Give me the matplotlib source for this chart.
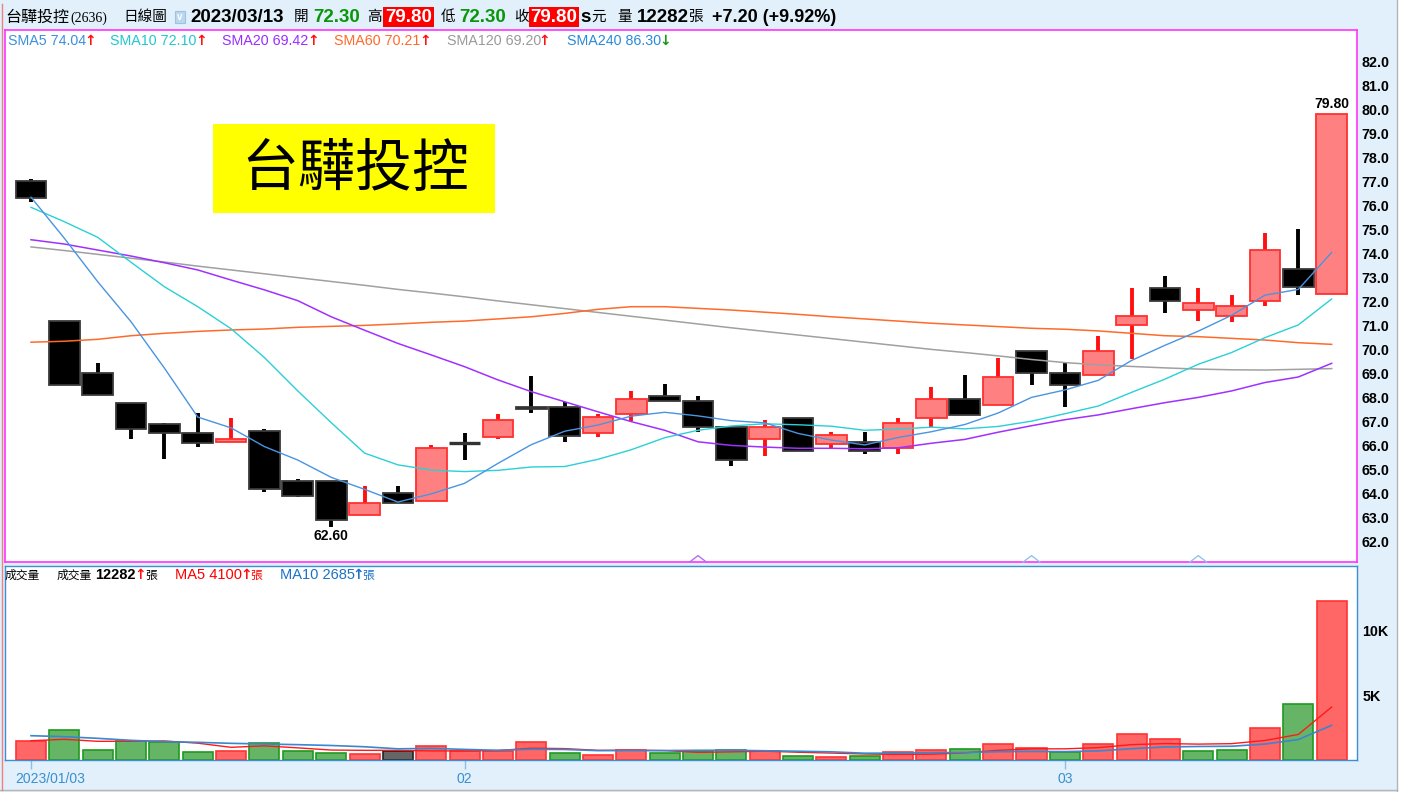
import numpy as np
import matplotlib
matplotlib.use("Agg")
import matplotlib.pyplot as plt
from matplotlib.patches import Rectangle
from matplotlib.lines import Line2D
from matplotlib.transforms import ScaledTranslation, blended_transform_factory

LAT = ["Liberation Sans", "DejaVu Sans"]
CJK = ["Noto Sans CJK TC", "DejaVu Sans"]
plt.rcParams["font.family"] = LAT

# =====================
# 資料
# =====================
dates = ["01/03", "01/04", "01/05", "01/06", "01/09", "01/10", "01/11", "01/12", "01/13", "01/16",
         "01/17", "01/30", "01/31", "02/01", "02/02", "02/03", "02/06", "02/07", "02/08", "02/09",
         "02/10", "02/13", "02/14", "02/15", "02/16", "02/17", "02/20", "02/21", "02/22", "02/23",
         "02/24", "03/01", "03/02", "03/03", "03/06", "03/07", "03/08", "03/09", "03/10", "03/13"]
month_labels = ["2023/01/03", "02", "03"]

opens = [77.0, 71.2, 69.0, 67.75, 66.9, 66.5, 66.15, 66.6, 64.5, 64.5,
         63.1, 64.0, 63.7, 66.1, 66.35, 67.6, 67.6, 66.5, 67.3, 68.05,
         67.85, 66.75, 66.25, 67.15, 66.05, 66.15, 65.9, 67.15, 67.95, 67.7,
         69.95, 69.0, 68.95, 71.0, 72.55, 71.65, 71.4, 72.0, 73.35, 72.3]
highs = [77.1, 71.2, 69.45, 67.75, 66.95, 67.35, 67.15, 66.7, 64.6, 64.5,
         64.3, 64.3, 66.0, 66.5, 67.3, 68.9, 67.8, 67.3, 68.25, 68.55,
         68.05, 66.75, 67.05, 67.15, 66.55, 66.55, 67.15, 68.45, 68.95, 69.65,
         69.95, 69.45, 70.55, 72.55, 73.05, 72.55, 72.25, 74.85, 75.0, 79.8]
lows = [76.15, 68.5, 68.1, 66.25, 65.45, 65.95, 66.15, 64.05, 63.85, 62.6,
        63.1, 63.6, 63.7, 65.4, 66.25, 67.35, 66.15, 66.35, 67.0, 67.85,
        66.55, 65.15, 65.55, 65.75, 65.9, 65.65, 65.65, 66.75, 67.25, 67.7,
        68.5, 67.6, 68.95, 69.6, 71.5, 71.2, 71.15, 71.8, 72.25, 72.3]
closes = [76.3, 68.5, 68.1, 66.7, 66.5, 66.1, 66.25, 64.2, 63.9, 62.9,
          63.6, 63.6, 65.9, 66.1, 67.05, 67.5, 66.4, 67.2, 67.95, 67.85,
          66.75, 65.4, 66.75, 65.75, 66.45, 65.75, 66.95, 67.95, 67.25, 68.85,
          69.0, 68.5, 69.95, 71.4, 72.0, 71.95, 71.8, 74.15, 72.6, 79.8]
prev_close = 75.8  # 12/30 收盤（估）

sma5 = [76.34, 74.63, 72.82, 71.15, 69.22, 67.18, 66.73, 65.95, 65.39, 64.67,
        64.17, 63.64, 63.98, 64.42, 65.25, 66.03, 66.59, 66.85, 67.22, 67.38,
        67.23, 67.03, 66.94, 66.50, 66.22, 66.02, 66.33, 66.57, 66.87, 67.35,
        68.00, 68.31, 68.71, 69.54, 70.17, 70.76, 71.42, 72.26, 72.50, 74.04]
sma10 = [75.92, 75.32, 74.67, 73.63, 72.61, 71.78, 70.86, 69.66, 68.27, 66.95,
         65.68, 65.19, 64.97, 64.91, 64.96, 65.10, 65.12, 65.42, 65.82, 66.32,
         66.63, 66.81, 66.90, 66.86, 66.80, 66.63, 66.68, 66.76, 66.69, 66.79,
         67.01, 67.32, 67.64, 68.21, 68.76, 69.38, 69.87, 70.49, 71.02, 72.10]
sma20 = [74.57, 74.39, 74.14, 73.89, 73.61, 73.31, 72.89, 72.48, 72.03, 71.36,
         70.80, 70.25, 69.77, 69.28, 68.73, 68.24, 67.82, 67.40, 66.99, 66.63,
         66.15, 66.00, 65.93, 65.88, 65.88, 65.86, 65.90, 66.09, 66.25, 66.55,
         66.82, 67.07, 67.27, 67.53, 67.78, 68.00, 68.27, 68.62, 68.85, 69.42]
sma60 = [70.30, 70.34, 70.42, 70.57, 70.67, 70.75, 70.81, 70.85, 70.92, 70.96,
         71.00, 71.06, 71.13, 71.18, 71.27, 71.36, 71.50, 71.67, 71.78, 71.78,
         71.71, 71.64, 71.55, 71.46, 71.36, 71.27, 71.18, 71.09, 71.02, 70.95,
         70.88, 70.84, 70.77, 70.67, 70.57, 70.53, 70.46, 70.39, 70.28, 70.21]
sma120 = [74.27, 74.12, 73.96, 73.80, 73.64, 73.47, 73.31, 73.15, 72.99, 72.83,
          72.67, 72.50, 72.35, 72.19, 72.02, 71.86, 71.70, 71.54, 71.38, 71.22,
          71.06, 70.90, 70.75, 70.60, 70.45, 70.30, 70.15, 70.00, 69.87, 69.73,
          69.58, 69.45, 69.36, 69.29, 69.23, 69.18, 69.15, 69.14, 69.17, 69.20]

volumes = [1471, 2299, 751, 1471, 1393, 596, 697, 1316, 697, 542,
           488, 697, 1084, 697, 697, 1393, 542, 410, 751, 542,
           697, 751, 673, 333, 232, 333, 596, 751, 851, 1215,
           906, 596, 1215, 2012, 1625, 697, 774, 2454, 4334, 12282]
vol_ma5 = [1494, 1600, 1447, 1447, 1477, 1302, 982, 1095, 940, 770,
           748, 748, 702, 702, 733, 914, 883, 748, 759, 728,
           588, 630, 683, 599, 537, 464, 433, 449, 553, 749,
           864, 864, 957, 1189, 1271, 1229, 1265, 1512, 1977, 4100]
vol_ma10 = [1881, 1805, 1677, 1522, 1419, 1367, 1290, 1238, 1187, 1123,
            1025, 865, 898, 821, 751, 831, 815, 725, 730, 730,
            751, 756, 715, 679, 632, 526, 532, 566, 576, 643,
            664, 649, 703, 871, 1010, 1046, 1064, 1235, 1582, 2685]

# 價格區底部的小三角提示（K 棒序號與顏色）
hint_idx = [20, 30, 35]
hint_colors = ["#b070f0", "#8cc6f0", "#8cc6f0"]

price_ticks = np.arange(62, 83, 1.0)

# =====================
# 版面
# =====================
W, H = 1405, 792
BG = "#e1f0fa"
fig = plt.figure(figsize=(W / 100, H / 100), dpi=100, facecolor=BG)


def fx(px):
    return px / W


def fy(py):
    return 1 - py / H


def put(x, y, s, **kw):
    kw.setdefault("va", "center")
    kw.setdefault("ha", "left")
    return fig.text(fx(x), fy(y), s, **kw)


ax_p = fig.add_axes([fx(5), fy(562), fx(1357) - fx(5), fy(30) - fy(562)])
ax_v = fig.add_axes([fx(5), fy(760), fx(1357) - fx(5), fy(566) - fy(760)])

x = np.arange(len(closes))
xlim = (-0.78, 39.76)

# =====================
# K 線
# =====================
w = 0.92
for i in x:
    o, h, l, c = opens[i], highs[i], lows[i], closes[i]
    up = c > o
    wick = "#ff1010" if up else "black"
    ax_p.vlines(i, l, h, color=wick, lw=2.8, zorder=2)
    if o == c:
        ax_p.hlines(o, i - w / 2, i + w / 2, color="#333333", lw=2.4, zorder=3)
    else:
        ax_p.add_patch(Rectangle((i - w / 2, min(o, c)), w, abs(c - o),
                                 facecolor="#ff8080" if up else "black",
                                 edgecolor="#ff3030" if up else "#3a3a3a",
                                 lw=1.3, zorder=3))

ax_p.plot(x, sma120, color="#a0a0a0", lw=1.1, zorder=4)
ax_p.plot(x, sma60, color="#ff6a2a", lw=1.1, zorder=4)
ax_p.plot(x, sma20, color="#a030ff", lw=1.1, zorder=4)
ax_p.plot(x, sma10, color="#2ad0d6", lw=1.0, zorder=4)
ax_p.plot(x, sma5, color="#4a94e0", lw=1.0, zorder=4)

ax_p.annotate(f"{max(highs):.2f}", xy=(int(np.argmax(highs)), max(highs)), xytext=(0, 2),
              textcoords="offset points", ha="center", va="bottom",
              fontsize=10, fontweight="bold")
ax_p.annotate(f"{min(lows):.2f}", xy=(int(np.argmin(lows)), min(lows)), xytext=(0, -1.5),
              textcoords="offset points", ha="center", va="top",
              fontsize=10, fontweight="bold")

# 底部小三角
btrans = blended_transform_factory(ax_p.transData, ax_p.transAxes)
for i, col in zip(hint_idx, hint_colors):
    ax_p.plot([i - 0.25, i, i + 0.25], [0.0, 0.012, 0.0], transform=btrans,
              color=col, lw=1.0, zorder=5, clip_on=False)

ax_p.set_xlim(*xlim)
ax_p.set_ylim(61.142, 83.308)
ax_p.set_xticks([])
ax_p.yaxis.tick_right()
ax_p.set_yticks(price_ticks)
ax_p.set_yticklabels([f"{t:.1f}" for t in price_ticks])
ax_p.tick_params(axis="y", length=0, pad=3, labelsize=10.3)
for t in ax_p.get_yticklabels():
    t.set_fontweight("bold")
for s in ax_p.spines.values():
    s.set_color("#ff33ff")
    s.set_linewidth(1.2)

# =====================
# 成交量
# =====================
closes_prev = [prev_close] + closes[:-1]
bar_fc, bar_ec = [], []
for c, pc in zip(closes, closes_prev):
    if c > pc:
        bar_fc.append("#ff6666"); bar_ec.append("#ff3333")
    elif c < pc:
        bar_fc.append("#66b566"); bar_ec.append("#1f9a1f")
    else:
        bar_fc.append("#666666"); bar_ec.append("#222222")
ax_v.bar(x, volumes, width=0.9, color=bar_fc, edgecolor=bar_ec, lw=1.2, zorder=2)
ax_v.plot(x, vol_ma5, color="#ff1a1a", lw=1.0, zorder=3)
ax_v.plot(x, vol_ma10, color="#3a86cf", lw=1.2, zorder=3)

ax_v.set_xlim(*xlim)
ax_v.set_ylim(0, 15015)
ax_v.yaxis.tick_right()
ax_v.set_yticks([5000, 10000])
ax_v.set_yticklabels(["5K", "10K"])
ax_v.tick_params(axis="y", length=0, pad=4, labelsize=10.3)
for t in ax_v.get_yticklabels():
    t.set_fontweight("bold")

month_idx = [0] + [i for i in range(1, len(dates)) if dates[i][:2] != dates[i - 1][:2]]
ax_v.set_xticks(month_idx)
ax_v.set_xticklabels(month_labels)
ax_v.tick_params(axis="x", length=6.5, width=1, color="#8cc0e6", labelcolor="#3a8fd0",
                 labelsize=10, pad=2)
first = ax_v.get_xticklabels()[0]
first.set_ha("left")
first.set_transform(first.get_transform() + ScaledTranslation(-0.16, 0, fig.dpi_scale_trans))
for s in ax_v.spines.values():
    s.set_color("#3d8fd1")
    s.set_linewidth(1.0)

# =====================
# 標題列
# =====================
ARROW = ["DejaVu Sans"]
put(5, 17, "台驊投控", family=CJK, fontsize=11.5)
put(70, 18, "(2636)", family=["Liberation Serif", "DejaVu Serif"], fontsize=10)
put(123, 17, "日線圖", family=CJK, fontsize=10.5)
fig.patches.append(Rectangle((fx(175), fy(23)), fx(10), fy(11) - fy(23), transform=fig.transFigure,
                             fc="#bcd8ef", ec="#9cc3e3", lw=0.8))
put(180, 16.5, "v", ha="center", fontsize=7, color="white", fontweight="bold")
put(190, 17, "2023/03/13", fontsize=13.5, fontweight="bold")
put(294, 17, "開", family=CJK, fontsize=10.5)
put(313, 17, "72.30", fontsize=13.5, fontweight="bold", color="#0a960a")
put(367, 17, "高", family=CJK, fontsize=10.5)
put(408.5, 17, "79.80", ha="center", fontsize=13.5, fontweight="bold", color="white",
    bbox=dict(boxstyle="square,pad=0.1", fc="#ff0000", ec="none"))
put(441, 17, "低", family=CJK, fontsize=10.5)
put(459, 17, "72.30", fontsize=13.5, fontweight="bold", color="#0a960a")
put(514, 17, "收", family=CJK, fontsize=10.5)
put(554, 17, "79.80", ha="center", fontsize=13.5, fontweight="bold", color="white",
    bbox=dict(boxstyle="square,pad=0.1", fc="#ff0000", ec="none"))
put(580, 17, "s", fontsize=13.5, fontweight="bold")
put(591, 17, "元", family=CJK, fontsize=10.5)
put(617, 17, "量", family=CJK, fontsize=10.5)
put(637, 17, "12282", fontsize=13.5, fontweight="bold")
put(688, 17, "張", family=CJK, fontsize=10.5)
put(712, 17, "+7.20 (+9.92%)", fontsize=13, fontweight="bold")

# 均線圖例
sma_legend = [(8, 90.5, "SMA5 74.04", "#3d8fdc", "↑", "#ff1010"),
              (110, 201.5, "SMA10 72.10", "#20c8cf", "↑", "#ff1010"),
              (222, 313.5, "SMA20 69.42", "#9b2cff", "↑", "#ff1010"),
              (334, 425.5, "SMA60 70.21", "#ff6a2a", "↑", "#ff1010"),
              (447, 544.5, "SMA120 69.20", "#9a9a9a", "↑", "#ff1010"),
              (567, 665, "SMA240 86.30", "#2a8ad8", "↓", "#139a13")]
for x0, xa, s, col, arr, acol in sma_legend:
    put(x0, 41, s, fontsize=10.3, color=col)
    put(xa, 41, arr, ha="center", family=ARROW, fontsize=10, color=acol, fontweight="bold")

# 成交量圖例
put(5, 575, "成交量", family=CJK, fontsize=8.5)
put(57, 575, "成交量", family=CJK, fontsize=8.5)
put(95, 575, "12282", fontsize=10.5, fontweight="bold")
put(140.5, 575, "↑", ha="center", family=ARROW, fontsize=10, color="#ff1010", fontweight="bold")
put(145, 575, "張", family=CJK, fontsize=8.5)
put(175, 575, "MA5 4100", fontsize=10.5, color="#ff0000")
put(246, 575, "↑", ha="center", family=ARROW, fontsize=10, color="#ff1010", fontweight="bold")
put(250, 575, "張", family=CJK, fontsize=8.5, color="#ff0000")
put(280, 575, "MA10 2685", fontsize=10.5, color="#1a73c8")
put(358, 575, "↑", ha="center", family=ARROW, fontsize=10, color="#1a73c8", fontweight="bold")
put(362, 575, "張", family=CJK, fontsize=8.5, color="#1a73c8")

# 黃色標題框
fig.patches.append(Rectangle((fx(213), fy(213)), fx(495) - fx(213), fy(124) - fy(213),
                             transform=fig.transFigure, fc="#ffff00", ec="none", zorder=5))
put(355, 170, "台驊投控", ha="center", family=CJK, fontsize=41, zorder=6)

# 視窗邊框
fig.lines.append(Line2D([fx(1397), fx(1397)], [0, 1], transform=fig.transFigure, color="#b4b4b4", lw=1))
fig.patches.append(Rectangle((fx(1398), 0), fx(7), 1, transform=fig.transFigure, fc="white", ec="none"))
fig.lines.append(Line2D([0, fx(1397)], [fy(789.5), fy(789.5)], transform=fig.transFigure, color="#b4b4b4", lw=1))
fig.lines.append(Line2D([fx(1.5), fx(1.5)], [fy(790), fy(4)], transform=fig.transFigure, color="#f08080", lw=1))

fig.savefig("out.png", dpi=100, facecolor=BG)
